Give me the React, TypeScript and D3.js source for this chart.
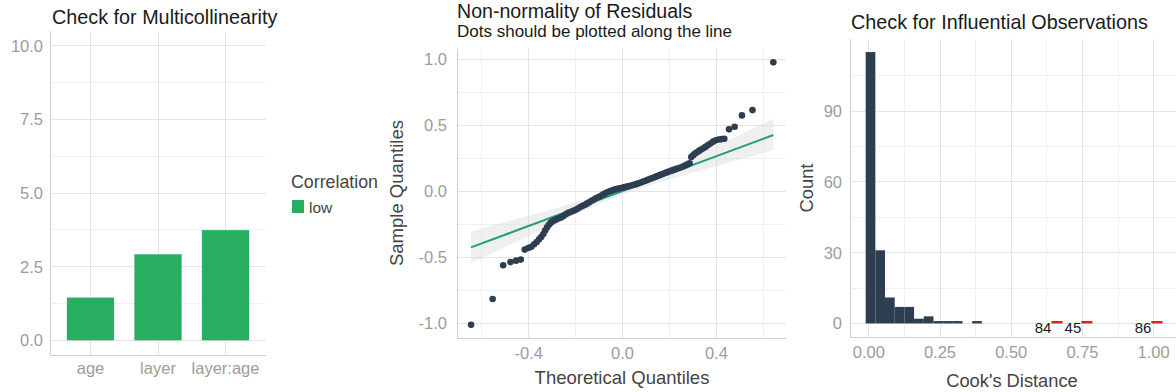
import React from 'react';
import * as d3 from 'd3';

// ---------- Panel 1: collinearity ----------
const vifTerms = ['age', 'layer', 'layer:age'];
const vifValues = [1.45, 2.92, 3.74];
const vifTicks = [0, 2.5, 5, 7.5, 10];
const vifTickLabels = ['0.0', '2.5', '5.0', '7.5', '10.0'];
const legendTitle = 'Correlation';
const legendLabels = ['low'];

// ---------- Panel 2: QQ ----------
const qqTheoretical = [
  -0.646, -0.554, -0.509, -0.478, -0.454, -0.434, -0.417, -0.402, -0.389, -0.377,
  -0.366, -0.356, -0.347, -0.338, -0.330, -0.322, -0.314, -0.306, -0.298, -0.290,
  -0.281, -0.272, -0.262, -0.252, -0.242, -0.232, -0.222, -0.212, -0.202, -0.192,
  -0.182, -0.172, -0.162, -0.152, -0.142, -0.132, -0.122, -0.112, -0.102, -0.092,
  -0.082, -0.072, -0.062, -0.052, -0.042, -0.032, -0.022, -0.012, -0.002, 0.008,
  0.018, 0.028, 0.038, 0.048, 0.058, 0.068, 0.078, 0.088, 0.098, 0.108,
  0.118, 0.128, 0.138, 0.148, 0.158, 0.168, 0.178, 0.188, 0.198, 0.208,
  0.218, 0.228, 0.238, 0.248, 0.258, 0.268, 0.278, 0.286, 0.293, 0.301,
  0.309, 0.317, 0.326, 0.335, 0.345, 0.355, 0.365, 0.375, 0.386, 0.398,
  0.410, 0.422, 0.434, 0.454, 0.478, 0.509, 0.554, 0.643,
];
const qqSample = [
  -1.010, -0.814, -0.559, -0.535, -0.524, -0.516, -0.440, -0.428, -0.418, -0.400,
  -0.382, -0.362, -0.345, -0.322, -0.295, -0.272, -0.252, -0.236, -0.226, -0.218,
  -0.210, -0.203, -0.196, -0.185, -0.172, -0.162, -0.155, -0.148, -0.140, -0.130,
  -0.120, -0.110, -0.102, -0.092, -0.082, -0.070, -0.060, -0.050, -0.042, -0.032,
  -0.022, -0.012, -0.004, 0.004, 0.010, 0.016, 0.021, 0.025, 0.029, 0.033,
  0.037, 0.041, 0.046, 0.051, 0.056, 0.062, 0.068, 0.075, 0.082, 0.089,
  0.096, 0.103, 0.110, 0.117, 0.124, 0.131, 0.138, 0.145, 0.152, 0.158,
  0.164, 0.170, 0.176, 0.182, 0.190, 0.198, 0.206, 0.214, 0.262, 0.275,
  0.288, 0.298, 0.308, 0.318, 0.328, 0.340, 0.352, 0.364, 0.378, 0.388,
  0.394, 0.397, 0.400, 0.471, 0.491, 0.577, 0.617, 0.979,
];
const qqLineX = [-0.646, 0.643];
const qqLineY = [-0.423, 0.428];
const qqBandX = [-0.646, -0.5, -0.4, -0.3, -0.2, -0.1, 0, 0.1, 0.2, 0.3, 0.4, 0.5, 0.643];
const qqBandLow = [-0.543, -0.421, -0.337, -0.254, -0.172, -0.093, -0.022, 0.039, 0.092, 0.144, 0.193, 0.241, 0.311];
const qqBandHigh = [-0.303, -0.231, -0.183, -0.134, -0.082, -0.029, 0.032, 0.103, 0.182, 0.264, 0.347, 0.431, 0.551];
const qqXTicks = [-0.4, 0, 0.4];
const qqXTickLabels = ['-0.4', '0.0', '0.4'];
const qqYTicks = [-1, -0.5, 0, 0.5, 1];
const qqYTickLabels = ['-1.0', '-0.5', '0.0', '0.5', '1.0'];

// ---------- Panel 3: Cook's distance ----------
const cookBinStart = [-0.011, 0.023, 0.057, 0.091, 0.125, 0.159, 0.193, 0.227, 0.261, 0.295, 0.363];
const cookCounts = [115, 31, 11, 7, 7, 2, 3, 1, 1, 1, 1];
const cookOutlierStart = [0.641, 0.746, 0.992];
const cookOutlierCounts = [1, 1, 1];
const cookOutlierLabels = ['84', '45', '86'];
const cookXTicks = [0, 0.25, 0.5, 0.75, 1];
const cookXTickLabels = ['0.00', '0.25', '0.50', '0.75', '1.00'];
const cookYTicks = [0, 30, 60, 90];
const cookYTickLabels = ['0', '30', '60', '90'];

// ---------- styling ----------
const FONT = '"Liberation Sans", Arial, Helvetica, sans-serif';
const GRID_MAJOR = '#e4e4e4';
const GRID_MINOR = '#f0f0f0';
const AXIS_COL = '#cfcfcf';
const TICK_COL = '#9c9c9c';
const AXTITLE_COL = '#444444';
const TITLE_COL = '#1a1a1a';
const GREEN = '#27ae60';
const NAVY = '#2c3e50';
const LINE_COL = '#1f9e78';
const RED = '#cd201f';
const BIN_W = 0.034;
const OUT_W = 0.039;

function mids(t: number[]) {
  const m: number[] = [];
  for (let i = 0; i < t.length - 1; i++) m.push((t[i] + t[i + 1]) / 2);
  return m;
}

function HLines({ vals, y, x0, x1, color }: any) {
  return (
    <g>
      {vals.map((v: number, i: number) => (
        <line key={i} x1={x0} x2={x1} y1={y(v)} y2={y(v)} stroke={color} strokeWidth={1} shapeRendering="crispEdges" />
      ))}
    </g>
  );
}
function VLines({ vals, x, y0, y1, color }: any) {
  return (
    <g>
      {vals.map((v: number, i: number) => (
        <line key={i} y1={y0} y2={y1} x1={x(v)} x2={x(v)} stroke={color} strokeWidth={1} shapeRendering="crispEdges" />
      ))}
    </g>
  );
}

function CollinearityPanel() {
  const L = 50, R = 266, T = 31, B = 355;
  const x = d3.scalePoint<string>().domain(vifTerms).range([L, R]).padding(0.6);
  const y = d3.scaleLinear().domain([-0.5, 10.5]).range([B, T]);
  const bw = x.step() * 0.7;
  return (
    <g>
      <HLines vals={mids(vifTicks)} y={y} x0={L} x1={R} color={GRID_MINOR} />
      <HLines vals={vifTicks} y={y} x0={L} x1={R} color={GRID_MAJOR} />
      {vifTerms.map((t) => (
        <line key={t} x1={x(t)} x2={x(t)} y1={T} y2={B} stroke={GRID_MAJOR} shapeRendering="crispEdges" />
      ))}
      {vifTerms.map((t, i) => (
        <rect key={t} x={(x(t) as number) - bw / 2} width={bw} y={y(vifValues[i])} height={y(0) - y(vifValues[i])} fill={GREEN} />
      ))}
      <line x1={L} x2={L} y1={T} y2={B} stroke={AXIS_COL} shapeRendering="crispEdges" />
      <line x1={L} x2={R} y1={B} y2={B} stroke={AXIS_COL} shapeRendering="crispEdges" />
      {vifTicks.map((v, i) => (
        <text key={i} x={43} y={y(v)} dy="0.36em" textAnchor="end" fontSize={16.5} fill={TICK_COL}>{vifTickLabels[i]}</text>
      ))}
      {vifTerms.map((t) => (
        <text key={t} x={x(t)} y={374} textAnchor="middle" fontSize={16.5} fill={TICK_COL}>{t}</text>
      ))}
      <text x={52} y={24} fontSize={19.8} fill={TITLE_COL}>Check for Multicollinearity</text>
      <text x={291} y={188} fontSize={17.8} fill={AXTITLE_COL}>{legendTitle}</text>
      {legendLabels.map((lab, i) => (
        <g key={lab}>
          <rect x={292} y={200 + i * 20} width={12} height={13} fill={GREEN} />
          <text x={309} y={213 + i * 20} fontSize={15.5} fill={AXTITLE_COL}>{lab}</text>
        </g>
      ))}
    </g>
  );
}

function QQPanel() {
  const L = 457, R = 786, T = 49, B = 338;
  const x = d3.scaleLinear().domain([-0.706, 0.697]).range([L, R]);
  const y = d3.scaleLinear().domain([-1.11, 1.08]).range([B, T]);
  const band = d3.area<number>()
    .x((_, i) => x(qqBandX[i]))
    .y0((_, i) => y(qqBandLow[i]))
    .y1((_, i) => y(qqBandHigh[i]));
  const ln = d3.line<number>().x((d) => x(d)).y((_, i) => y(qqLineY[i]));
  return (
    <g>
      <HLines vals={mids(qqYTicks)} y={y} x0={L} x1={R} color={GRID_MINOR} />
      <VLines vals={[-0.6, ...mids(qqXTicks), 0.6]} x={x} y0={T} y1={B} color={GRID_MINOR} />
      <HLines vals={qqYTicks} y={y} x0={L} x1={R} color={GRID_MAJOR} />
      <VLines vals={qqXTicks} x={x} y0={T} y1={B} color={GRID_MAJOR} />
      <path d={band(qqBandX) || ''} fill="#d6d6d6" fillOpacity={0.4} />
      <path d={ln(qqLineX) || ''} fill="none" stroke={LINE_COL} strokeWidth={2} />
      {qqTheoretical.map((v, i) => (
        <circle key={i} cx={x(v)} cy={y(qqSample[i])} r={3.3} fill={NAVY} />
      ))}
      <line x1={L} x2={L} y1={T} y2={B} stroke={AXIS_COL} shapeRendering="crispEdges" />
      <line x1={L} x2={R} y1={B} y2={B} stroke={AXIS_COL} shapeRendering="crispEdges" />
      {qqYTicks.map((v, i) => (
        <text key={i} x={447} y={y(v)} dy="0.36em" textAnchor="end" fontSize={16.5} fill={TICK_COL}>{qqYTickLabels[i]}</text>
      ))}
      {qqXTicks.map((v, i) => (
        <text key={i} x={x(v)} y={359} textAnchor="middle" fontSize={16.5} fill={TICK_COL}>{qqXTickLabels[i]}</text>
      ))}
      <text x={622} y={384} textAnchor="middle" fontSize={18.5} fill={AXTITLE_COL}>Theoretical Quantiles</text>
      <text transform={`translate(403,193) rotate(-90)`} textAnchor="middle" fontSize={18.5} fill={AXTITLE_COL}>Sample Quantiles</text>
      <text x={457} y={18} fontSize={19.6} fill={TITLE_COL}>Non-normality of Residuals</text>
      <text x={457} y={37} fontSize={17} fill={TITLE_COL}>Dots should be plotted along the line</text>
    </g>
  );
}

function CookPanel() {
  const L = 850, R = 1180, T = 38.5, B = 337;
  const x = d3.scaleLinear().domain([-0.066, 1.0925]).range([L, R]);
  const y = d3.scaleLinear().domain([-5.75, 120.75]).range([B, T]);
  return (
    <g>
      <HLines vals={[...mids(cookYTicks), 105]} y={y} x0={L} x1={R} color={GRID_MINOR} />
      <VLines vals={mids(cookXTicks)} x={x} y0={T} y1={B} color={GRID_MINOR} />
      <HLines vals={cookYTicks} y={y} x0={L} x1={R} color={GRID_MAJOR} />
      <VLines vals={cookXTicks} x={x} y0={T} y1={B} color={GRID_MAJOR} />
      {cookBinStart.map((s, i) => (
        <rect key={i} x={x(s)} width={x(s + BIN_W) - x(s)} y={y(cookCounts[i])} height={y(0) - y(cookCounts[i])} fill={NAVY} />
      ))}
      {cookOutlierStart.map((s, i) => (
        <g key={i}>
          <rect x={x(s)} width={x(s + OUT_W) - x(s)} y={y(cookOutlierCounts[i])} height={y(0) - y(cookOutlierCounts[i])} fill={RED} />
          <text x={x(s)} y={333} textAnchor="end" fontSize={15} fill={TITLE_COL}>{cookOutlierLabels[i]}</text>
        </g>
      ))}
      <line x1={L} x2={L} y1={T} y2={B} stroke={AXIS_COL} shapeRendering="crispEdges" />
      <line x1={L} x2={R} y1={B} y2={B} stroke={AXIS_COL} shapeRendering="crispEdges" />
      {cookYTicks.map((v, i) => (
        <text key={i} x={842} y={y(v)} dy="0.36em" textAnchor="end" fontSize={16.5} fill={TICK_COL}>{cookYTickLabels[i]}</text>
      ))}
      {cookXTicks.map((v, i) => (
        <text key={i} x={x(v)} y={358} textAnchor="middle" fontSize={16.5} fill={TICK_COL}>{cookXTickLabels[i]}</text>
      ))}
      <text x={1012} y={387} textAnchor="middle" fontSize={18.3} fill={AXTITLE_COL}>Cook's Distance</text>
      <text transform={`translate(813,188) rotate(-90)`} textAnchor="middle" fontSize={18.3} fill={AXTITLE_COL}>Count</text>
      <text x={851} y={29} fontSize={19.8} fill={TITLE_COL}>Check for Influential Observations</text>
    </g>
  );
}

export default function App() {
  return (
    <div style={{ position: 'absolute', left: 0, top: 0 }}>
      <svg width={1176} height={392} style={{ display: 'block', background: '#ffffff' }} fontFamily={FONT}>
        <rect x={0} y={0} width={1176} height={392} fill="#ffffff" />
        <CollinearityPanel />
        <QQPanel />
        <CookPanel />
      </svg>
    </div>
  );
}
